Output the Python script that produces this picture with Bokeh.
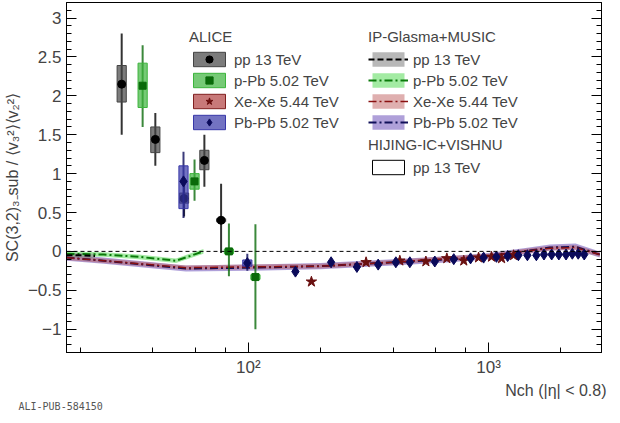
from bokeh.plotting import figure
from bokeh.models import (Span, Legend, LegendItem, LinearAxis, Range1d, Title,
                          FixedTicker, LogTicker)
from bokeh.embed import file_html
from bokeh.resources import INLINE

# ALICE data: x, y, stat low/high, sys low/high
pp_x = [29.7, 41, 54, 65.6, 77]
pp_y = [2.15, 1.44, 0.68, 1.17, 0.40]
pp_stat = [(1.50, 2.80), (1.10, 1.78), (0.45, 0.92), (0.83, 1.50), (-0.02, 0.87)]
pp_sys = [(1.92, 2.39), (1.27, 1.60), (0.62, 0.75), (1.05, 1.30), (0.38, 0.42)]

ppb_x = [36.3, 59.7, 83, 107]
ppb_y = [2.13, 0.90, 0.00, -0.33]
ppb_stat = [(1.60, 2.65), (0.65, 1.18), (-0.32, 0.36), (-1.00, 0.35)]
ppb_sys = [(1.85, 2.42), (0.80, 1.00), (-0.03, 0.03), (-0.36, -0.30)]

xe_x = [183, 309, 427, 548, 670, 788, 908, 1028, 1132, 1270]
xe_y = [-0.39, -0.14, -0.12, -0.13, -0.09, -0.12, -0.08, -0.07, -0.09, -0.05]

pbpb_x = [53.7, 99, 157, 221, 283, 347, 411, 470, 597, 716, 841, 953, 1078,
          1200, 1330, 1450, 1580, 1700, 1830, 1960, 2100, 2230, 2360, 2500]
pbpb_y = [0.90, -0.15, -0.26, -0.14, -0.20, -0.17, -0.14, -0.14, -0.13, -0.10,
          -0.09, -0.08, -0.07, -0.06, -0.05, -0.05, -0.05, -0.04, -0.04, -0.04,
          -0.04, -0.03, -0.03, -0.04]
pbpb_stat = [(0.43, 1.28), (-0.25, -0.03)]
pbpb_sys = [(0.55, 1.10), (-0.19, -0.11)]

# IP-Glasma+MUSIC model curves
ipg_pp_x = [17.5, 20, 23]
ipg_pp_y = [-0.05, -0.05, -0.06]
ipg_ppb_x = [17.5, 25, 35, 50, 65]
ipg_ppb_y = [-0.03, -0.04, -0.07, -0.12, 0.0]
ipg_xe_x = [17.5, 25, 55, 100, 200, 400, 700, 1000, 1400, 1800, 2300, 2900]
ipg_xe_y = [-0.08, -0.12, -0.21, -0.20, -0.19, -0.14, -0.09, -0.06, 0.0, 0.04, 0.05, -0.04]
ipg_pb_x = [17.5, 25, 55, 100, 200, 400, 700, 1000, 1400, 1800, 2300, 2900]
ipg_pb_y = [-0.08, -0.12, -0.22, -0.21, -0.19, -0.14, -0.10, -0.06, 0.0, 0.05, 0.06, -0.04]

FONT = "Liberation Sans"

p = figure(frame_width=535, frame_height=350, x_axis_type="log", x_range=Range1d(17.5, 2950),
           y_range=Range1d(-1.3, 3.2), output_backend="svg", toolbar_location=None,
           min_border_left=50, min_border_right=15, min_border_top=2, min_border_bottom=0)
p.grid.grid_line_color = None
p.outline_line_color = "black"

p.add_layout(Span(location=0, dimension="width", line_dash="4 3", line_color="black", line_width=1))


def band(x, y, color, alpha, half=0.03):
    return p.varea(x=x, y1=[v - half for v in y], y2=[v + half for v in y],
                   fill_color=color, fill_alpha=alpha)


b_pb = band(ipg_pb_x, ipg_pb_y, "#7a60c0", 0.6, 0.04)
b_xe = band(ipg_xe_x, ipg_xe_y, "#c06060", 0.5)
b_ppb = band(ipg_ppb_x, ipg_ppb_y, "#66dd66", 0.6)
b_pp = band(ipg_pp_x, ipg_pp_y, "#888888", 0.6)
l_pb = p.line(ipg_pb_x, ipg_pb_y, line_color="#10105a", line_width=2, line_dash="8 3 2 3")
l_xe = p.line(ipg_xe_x, ipg_xe_y, line_color="#8a1010", line_width=1.5, line_dash="8 3 2 3")
l_ppb = p.line(ipg_ppb_x, ipg_ppb_y, line_color="#0a7a0a", line_width=2, line_dash="8 3 2 3")
l_pp = p.line(ipg_pp_x, ipg_pp_y, line_color="black", line_width=2, line_dash="6 3")


def data(x, y, stat, sys, marker, mcolor, bcolor, size):
    n = len(stat)
    p.segment(x0=x[:n], x1=x[:n], y0=[s[0] for s in stat], y1=[s[1] for s in stat],
              line_color=mcolor, line_width=2, line_alpha=0.8)
    box = p.quad(left=[v / 1.045 for v in x[:n]], right=[v * 1.045 for v in x[:n]],
                 bottom=[s[0] for s in sys], top=[s[1] for s in sys],
                 fill_color=bcolor, fill_alpha=0.7, line_color=bcolor)
    m = p.scatter(x, y, marker=marker, size=size, fill_color=mcolor, line_color=mcolor)
    return box, m


pp_box, pp_m = data(pp_x, pp_y, pp_stat, pp_sys, "circle", "black", "#444444", 8)
ppb_box, ppb_m = data(ppb_x, ppb_y, ppb_stat, ppb_sys, "square", "#0a6a0a", "#3cb43c", 7)
# legend-only boxes, placed outside the visible range
xe_box = p.quad(left=[1], right=[1.1], bottom=[10], top=[11],
                fill_color="#b04040", fill_alpha=0.7, line_color="#802020")
xe_m = p.scatter(xe_x, xe_y, marker="star", size=11, fill_color="#6a1010", line_color="#6a1010")
pb_box, pb_m = data(pbpb_x, pbpb_y, pbpb_stat, pbpb_sys, "diamond", "#0a0a5a", "#3838a8", 11)

hij = p.quad(left=[1], right=[1.1], bottom=[10], top=[11], fill_color="white", line_color="black")

leg_kw = dict(border_line_color=None, background_fill_alpha=0, label_text_font=FONT,
              label_text_font_size="15px", title_text_font=FONT, title_text_font_size="15px",
              title_text_font_style="normal", glyph_width=40, glyph_height=18,
              label_height=18, spacing=3, padding=2, margin=0)

leg1 = Legend(items=[LegendItem(label="pp 13 TeV", renderers=[pp_box, pp_m]),
                     LegendItem(label="p-Pb 5.02 TeV", renderers=[ppb_box, ppb_m]),
                     LegendItem(label="Xe-Xe 5.44 TeV", renderers=[xe_box, xe_m]),
                     LegendItem(label="Pb-Pb 5.02 TeV", renderers=[pb_box, pb_m])],
              title="ALICE", location=(123, 221), **leg_kw)
leg2 = Legend(items=[LegendItem(label="pp 13 TeV", renderers=[b_pp, l_pp]),
                     LegendItem(label="p-Pb 5.02 TeV", renderers=[b_ppb, l_ppb]),
                     LegendItem(label="Xe-Xe 5.44 TeV", renderers=[b_xe, l_xe]),
                     LegendItem(label="Pb-Pb 5.02 TeV", renderers=[b_pb, l_pb])],
              title="IP-Glasma+MUSIC", location=(302, 221), **leg_kw)
leg3 = Legend(items=[LegendItem(label="pp 13 TeV", renderers=[hij])],
              title="HIJING-IC+VISHNU", location=(302, 176), **leg_kw)
for lg in (leg1, leg2, leg3):
    p.add_layout(lg)

for ax in (p.xaxis[0], p.yaxis[0]):
    ax.major_tick_in = 10
    ax.major_tick_out = 0
    ax.minor_tick_in = 5
    ax.minor_tick_out = 0
    ax.major_label_text_font = FONT
    ax.major_label_text_font_size = "17px"
    ax.axis_label_text_font = FONT
    ax.axis_label_text_font_size = "16px"
    ax.axis_label_text_font_style = "normal"

p.xaxis.ticker = LogTicker()
p.xaxis.major_label_overrides = {100: "10²", 1000: "10³"}
p.yaxis.ticker = FixedTicker(ticks=[-1, -0.5, 0, 0.5, 1, 1.5, 2, 2.5, 3],
                             minor_ticks=[round(-1.3 + 0.1 * i, 1) for i in range(46)])
p.yaxis.axis_label = "SC(3,2)₃₋sub / ⟨v₃²⟩⟨v₂²⟩"
p.yaxis.axis_label_standoff = 4

ry = LinearAxis(ticker=p.yaxis[0].ticker, major_label_text_font_size="0px",
                major_tick_in=10, major_tick_out=0, minor_tick_in=5, minor_tick_out=0)
p.add_layout(ry, "right")

p.add_layout(Title(text="Nch (|η| < 0.8)", text_font=FONT, text_font_size="16px",
                   text_font_style="normal", align="right", offset=-5, standoff=0), "below")
p.add_layout(Title(text="ALI-PUB-584150", text_font="DejaVu Sans Mono", text_font_size="10px",
                   text_color="#555555", text_font_style="normal", align="left", offset=-48,
                   standoff=0), "below")

open("out.html", "w").write(file_html(p, INLINE))
